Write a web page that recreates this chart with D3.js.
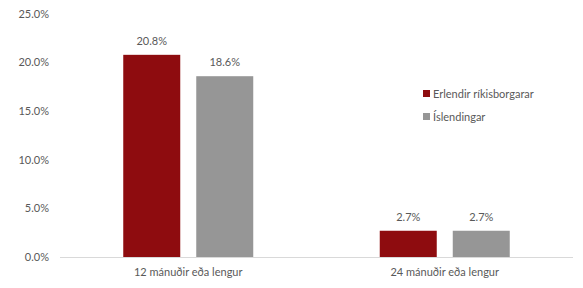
<!DOCTYPE html>
<head>
<meta charset="utf-8">
<script src="https://d3js.org/d3.v7.min.js"></script>
</head>
<style>
body { margin: 0; background: #fff; font-family: Lato, "Open Sans", sans-serif; }
text { fill: #595959; font-size: 11px; }
</style>
<body>
<svg id="chart"></svg>
<script>
// chart values
var categories = ["12 mánuðir eða lengur", "24 mánuðir eða lengur"];
var seriesNames = ["Erlendir ríkisborgarar", "Íslendingar"];
var foreignValues = [20.8, 2.7];
var icelandValues = [18.6, 2.7];
var yTicks = [0, 5, 10, 15, 20, 25];

var colors = ["#8e0c0f", "#969696"];
var width = 583, height = 288;
var margin = {top: 14, right: 10, bottom: 31, left: 60};

var svg = d3.select('#chart').attr('width', width).attr('height', height);

var x0 = d3.scaleBand().domain(categories)
    .range([margin.left, width - margin.right]);
var y = d3.scaleLinear().domain([0, 25]).range([height - margin.bottom, margin.top]);

var data = categories.map(function (c, i) {
    return {cat: c, vals: [foreignValues[i], icelandValues[i]]};
});

// y axis labels (no line, no grid)
svg.selectAll('text.ytick').data(yTicks).enter().append('text')
    .attr('class', 'ytick')
    .attr('x', 49)
    .attr('y', function (d) { return y(d); })
    .attr('dy', '0.35em')
    .attr('text-anchor', 'end')
    .text(function (d) { return d.toFixed(1) + '%'; });

// bars
var barW = 57, gap = 16;
var groups = svg.selectAll('g.cat').data(data).enter().append('g').attr('class', 'cat');
groups.each(function (d) {
    var cx = x0(d.cat) + x0.bandwidth() / 2;
    var g = d3.select(this);
    d.vals.forEach(function (v, j) {
        var bx = cx - gap / 2 - barW + j * (barW + gap);
        g.append('rect')
            .attr('x', bx)
            .attr('y', y(v))
            .attr('width', barW)
            .attr('height', y(0) - y(v))
            .attr('fill', colors[j]);
        g.append('text')
            .attr('x', bx + barW / 2)
            .attr('y', y(v) - 10)
            .attr('text-anchor', 'middle')
            .text(v.toFixed(1) + '%');
    });
    g.append('text')
        .attr('x', cx)
        .attr('y', y(0) + 19)
        .attr('text-anchor', 'middle')
        .text(d.cat);
});

// x axis line
svg.append('line')
    .attr('x1', margin.left).attr('x2', width - margin.right)
    .attr('y1', y(0) + 0.5).attr('y2', y(0) + 0.5)
    .attr('stroke', '#d9d9d9');

// legend
var legend = svg.selectAll('g.legend').data(seriesNames).enter().append('g')
    .attr('class', 'legend')
    .attr('transform', function (d, i) { return 'translate(423,' + (94 + i * 23) + ')'; });
legend.append('rect').attr('x', 0).attr('y', -4).attr('width', 7).attr('height', 7)
    .attr('fill', function (d, i) { return colors[i]; });
legend.append('text').attr('x', 10).attr('y', 0).attr('dy', '0.35em').text(function (d) { return d; });
</script>
</body>
